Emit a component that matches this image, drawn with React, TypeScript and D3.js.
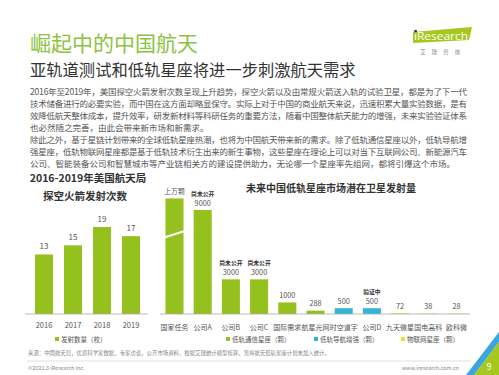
import React from "react";
import * as d3 from "d3";

const leftYears = ["2016", "2017", "2018", "2019"];
const leftLaunches = [13, 15, 19, 17];

const rightCategories = ["国家任务", "公司A", "公司B", "公司C", "国际需求", "航星光网", "时空道宇", "公司D", "九天微星", "国电高科", "欧科微"];
const rightValues = [10000, 9000, 3000, 3000, 1000, 288, 500, 500, 72, 38, 28];
const rightSeries = ["comm", "comm", "comm", "comm", "comm", "comm", "nav", "nav", "iot", "iot", "iot"];
const rightValueLabels = ["上万颗", "9000", "3000", "3000", "1000", "288", "500", "500", "72", "38", "28"];
const rightNotes = ["", "尚未公开", "尚未公开", "尚未公开", "", "", "", "验证中", "", "", ""];

const seriesKeys = ["comm", "nav", "iot"];
const seriesNames = ["低轨通信星座（颗）", "低轨导航增强（颗）", "物联网星座（颗）"];

const bodyLines = [
  "2016年至2019年，美国探空火箭发射次数呈现上升趋势，探空火箭以及由常规火箭送入轨的试验卫星，都是为了下一代",
  "技术储备进行的必要实验，而中国在这方面却略显保守。实际上对于中国的商业航天来说，迅速积累大量实验数据，是有",
  "效降低航天整体成本，提升效率，研发新材料等科研任务的重要方法，随着中国整体航天能力的增强，未来实验验证体系",
  "也必然随之完善，由此会带来新市场和新需求。",
  "除此之外，基于星链计划带来的全球低轨星座热潮，也将为中国航天带来新的需求。除了低轨通信星座以外，低轨导航增",
  "强星座，低轨物联网星座都是基于低轨技术衍生出来的新生事物，这些星座在理论上可以对当下互联网公司、新能源汽车",
  "公司、智能装备公司和智慧城市等产业链相关方的建设提供助力，无论哪一个星座率先组网，都将引爆这个市场。",
];
const bodyFull = [true, true, true, false, true, true, false];

const GREEN = "#95c11f";
const BLUE = "#33b5d9";
const YELLOW = "#f0dc2c";
const colorOf: Record<string, string> = { comm: GREEN, nav: BLUE, iot: YELLOW };
const FONT = "'Noto Sans CJK SC', 'Noto Sans', sans-serif";

export default function App() {
  const xL = d3.scaleBand<string>().domain(leftYears).range([29.5, 145.5]).paddingInner(0.38).paddingOuter(0.19);
  const yL = d3.scaleLinear().domain([0, 19]).range([314, 227]);

  const xR = d3.scaleBand<string>().domain(rightCategories).range([160.4, 470.6]).paddingInner(0.36).paddingOuter(0.18);
  const yR = d3.scaleLinear().domain([0, 9000]).range([314, 210]);

  const breakY = yR(6900);
  const b0 = xR(rightCategories[0])!;

  return (
    <div style={{ position: "fixed", left: 0, top: 0 }}>
      <svg width={499} height={375} style={{ display: "block", fontFamily: FONT }}>
        <rect width={499} height={375} fill="#fff" />
        {/* titles */}
        <text x={30} y={51} fontSize={21} fill="#8dc33f">崛起中的中国航天</text>
        <text x={30} y={76} fontSize={16.3} fill="#333">亚轨道测试和低轨星座将进一步刺激航天需求</text>
        {/* logo */}
        <polygon points="413,32 472,27 469,40 413,43" fill="#a6c81e" />
        <text x={414} y={40} fontSize={11} fill="#fff" fontFamily="'Open Sans', sans-serif" textLength={54} lengthAdjust="spacingAndGlyphs">iResearch</text>
        <circle cx={415.6} cy={31.2} r={1.4} fill="#1d3b7a" />
        <text x={443} y={54} fontSize={5.5} fill="#888" textAnchor="middle" letterSpacing={6}>艾瑞咨询</text>

        {/* body text */}
        {bodyLines.map((t, i) => (
          <text key={i} x={30} y={95 + i * 12} fontSize={8.5} fill="#555"
            {...(bodyFull[i] ? { textLength: 437, lengthAdjust: "spacing" } : {})}>{t}</text>
        ))}

        {/* left chart */}
        <text x={88} y={182} fontSize={10.5} fontWeight="bold" fill="#333" textAnchor="middle">2016-2019年美国航天局</text>
        <text x={85} y={200} fontSize={10.5} fontWeight="bold" fill="#333" textAnchor="middle">探空火箭发射次数</text>
        {leftYears.map((yr, i) => (
          <g key={yr}>
            <rect x={xL(yr)} y={yL(leftLaunches[i])} width={xL.bandwidth()} height={yL(0) - yL(leftLaunches[i])} fill={GREEN} />
            <text x={xL(yr)! + xL.bandwidth() / 2} y={yL(leftLaunches[i]) - 5} fontSize={8} fill="#555" textAnchor="middle">{leftLaunches[i]}</text>
            <text x={xL(yr)! + xL.bandwidth() / 2} y={328} fontSize={7.5} fill="#555" textAnchor="middle">{yr}</text>
          </g>
        ))}
        <line x1={25} x2={148} y1={yL(0)} y2={yL(0)} stroke="#aaa" strokeWidth={0.8} />
        <rect x={55} y={337} width={4} height={4} fill={GREEN} />
        <text x={61} y={341.5} fontSize={6.5} fill="#555">发射数量（枚）</text>

        {/* right chart */}
        <text x={246} y={192} fontSize={10} fontWeight="bold" fill="#333">未来中国低轨星座市场潜在卫星发射量</text>
        {rightCategories.map((c, i) => {
          const x = xR(c)!;
          const cx = x + xR.bandwidth() / 2;
          const top = yR(rightValues[i]);
          const labelY = top - 4.5;
          return (
            <g key={c}>
              <rect x={x} y={top} width={xR.bandwidth()} height={yR(0) - top} fill={colorOf[rightSeries[i]]} />
              <text x={cx} y={labelY} fontSize={i === 0 ? 6.8 : 7.3} fill="#555" textAnchor="middle">{rightValueLabels[i]}</text>
              {rightNotes[i] && (
                <text x={cx} y={labelY - 9.5} fontSize={5.8} fontWeight="bold" fill="#333" textAnchor="middle">{rightNotes[i]}</text>
              )}
              <text x={cx} y={330} fontSize={7} fill="#555" textAnchor="middle">{c}</text>
            </g>
          );
        })}
        <line x1={b0 - 2} x2={b0 + xR.bandwidth() + 2} y1={breakY + 3.5} y2={breakY - 3.5} stroke="#fff" strokeWidth={2} />
        <line x1={160} x2={470} y1={yR(0)} y2={yR(0)} stroke="#aaa" strokeWidth={0.8} />
        {seriesKeys.map((k, i) => {
          const lx = [226, 314, 401][i];
          return (
            <g key={k}>
              <rect x={lx} y={337} width={4} height={4} fill={colorOf[k]} />
              <text x={lx + 6} y={341.5} fontSize={6.5} fill="#555">{seriesNames[i]}</text>
            </g>
          );
        })}

        {/* footer */}
        <text x={28} y={355} fontSize={5.4} fill="#888">来源：中国航天局，优质科学家数据，专家访谈，公开市场资料，根据艾瑞统计模型核算。暂将航天低轨星座计划未加入统计。</text>
        <line x1={27} x2={470} y1={361} y2={361} stroke="#ccc" strokeWidth={0.6} />
        <text x={28} y={370} fontSize={5.4} fill="#888">©2021.3 iResearch Inc.</text>
        <text x={459} y={370} fontSize={5.4} fill="#888" textAnchor="end">www.iresearch.com.cn</text>

        {/* corner */}
        <polygon points="466,375 499,332 499,342 474,375" fill="#3aa6de" />
        <polygon points="474,375 499,342 499,375" fill="#a6c81e" />
        <text x={489} y={370} fontSize={9} fill="#fff" textAnchor="middle">9</text>
      </svg>
    </div>
  );
}
